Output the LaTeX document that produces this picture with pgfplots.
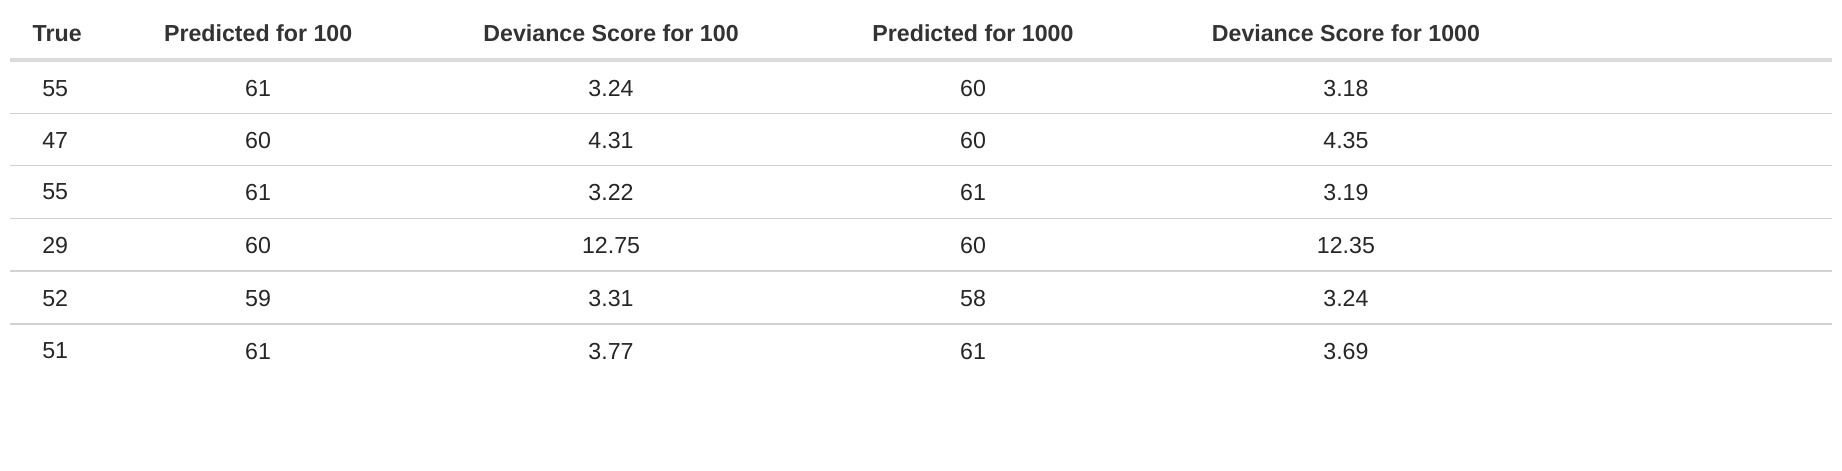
\documentclass[border=0pt]{standalone}
\usepackage{pgfplots}
\pgfplotsset{compat=1.18}
\usepackage{fontspec}
\setmainfont{Liberation Sans}
\begin{document}
\begin{tikzpicture}
\begin{axis}[width=18.42cm,height=4.70cm,scale only axis,hide axis,
  xmin=0,xmax=1842,ymin=0,ymax=470,y dir=reverse,clip=false]
\addplot[draw=white,line width=0.1pt] coordinates {(0,0) (1842,0) (1842,470) (0,470) (0,0)};
\addplot[color=black!14,line width=1.2pt] coordinates {(10,60) (1832,60)};
\foreach \yy in {113,165,218,271,324}{
 \edef\tmp{\noexpand\addplot[color=black!18,line width=0.35pt] coordinates {(10,\yy) (1832,\yy)};}\tmp}
\addplot[only marks,mark=none,nodes near coords,point meta=explicit symbolic,
  nodes near coords style={anchor=center,font=\fontsize{6.6}{7}\selectfont\bfseries,text=black!80}]
  table[col sep=comma,meta=label]{
x,y,label
57,33,True
258,33,Predicted for 100
611,33,Deviance Score for 100
973,33,Predicted for 1000
1346,33,Deviance Score for 1000
};
\addplot[only marks,mark=none,nodes near coords,point meta=explicit symbolic,
  nodes near coords style={anchor=center,font=\fontsize{6.6}{7}\selectfont,text=black!85}]
  table[col sep=comma,meta=label]{
x,y,label
55,88,55
258,88,61
611,88,3.24
973,88,60
1346,88,3.18
55,140,47
258,140,60
611,140,4.31
973,140,60
1346,140,4.35
55,192,55
258,192,61
611,192,3.22
973,192,61
1346,192,3.19
55,245,29
258,245,60
611,245,12.75
973,245,60
1346,245,12.35
55,298,52
258,298,59
611,298,3.31
973,298,58
1346,298,3.24
55,351,51
258,351,61
611,351,3.77
973,351,61
1346,351,3.69
};
\end{axis}
\end{tikzpicture}
\end{document}
